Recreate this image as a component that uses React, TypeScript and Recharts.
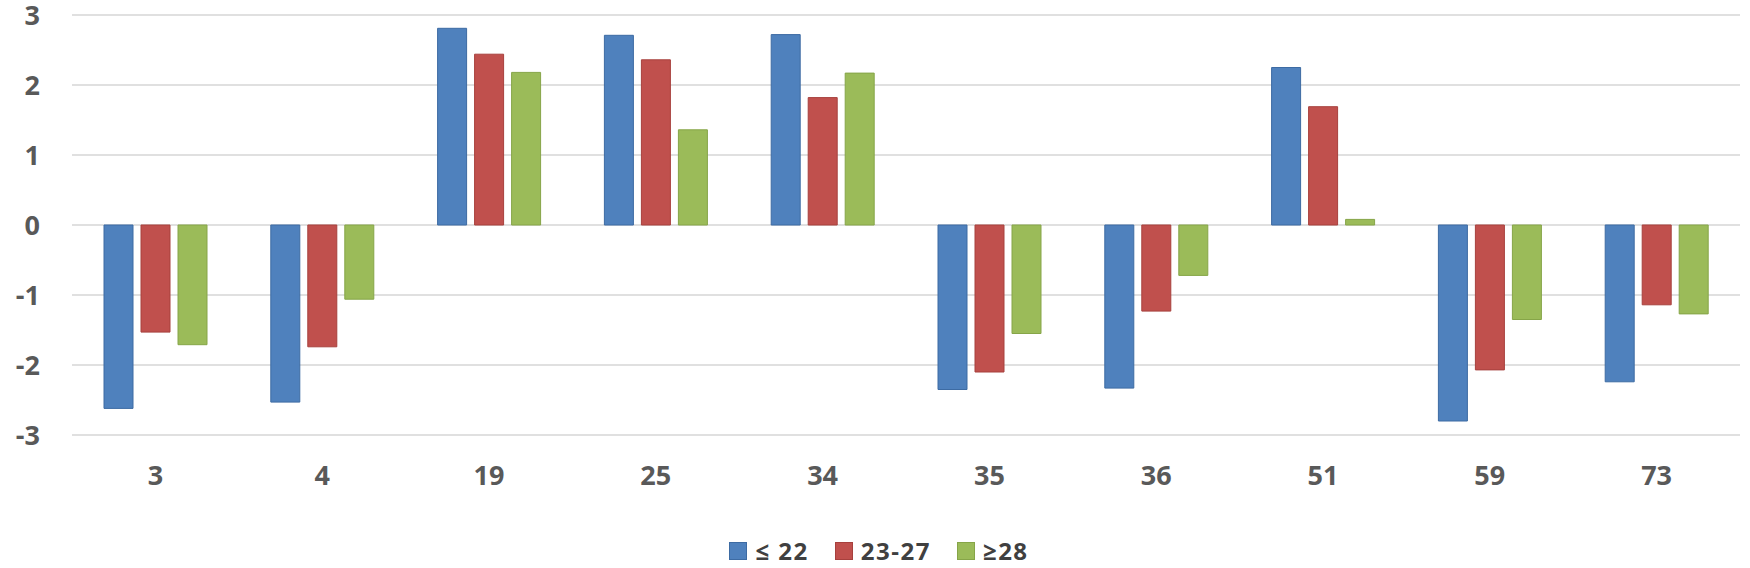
import React from 'react';
import { BarChart, Bar, XAxis, YAxis, CartesianGrid, Legend } from 'recharts';

const categories = ['3', '4', '19', '25', '34', '35', '36', '51', '59', '73'];
const seriesLow = [-2.62, -2.53, 2.81, 2.71, 2.72, -2.35, -2.33, 2.25, -2.8, -2.24];
const seriesMid = [-1.53, -1.74, 2.44, 2.36, 1.82, -2.1, -1.23, 1.69, -2.07, -1.14];
const seriesHigh = [-1.71, -1.06, 2.18, 1.36, 2.17, -1.55, -0.72, 0.08, -1.35, -1.27];
const yTicks = [-3, -2, -1, 0, 1, 2, 3];
const seriesNames = ['≤ 22', '23-27', '≥28'];

const colors = ['#4F81BD', '#C0504D', '#9BBB59'];
const strokes = ['#3D6BA3', '#A7403D', '#86A548'];

const data = categories.map((c, i) => ({
  name: c,
  low: seriesLow[i],
  mid: seriesMid[i],
  high: seriesHigh[i],
}));

const FONT = '"Open Sans", "Liberation Sans", sans-serif';

const LegendContent = () => (
  <div
    style={{
      display: 'flex',
      justifyContent: 'center',
      alignItems: 'center',
      fontFamily: FONT,
      fontWeight: 700,
      fontSize: 24,
      letterSpacing: 1.5,
      color: '#404040',
      height: 24,
      paddingLeft: 8,
    }}
  >
    {seriesNames.map((n, i) => (
      <div key={n} style={{ display: 'flex', alignItems: 'center', marginRight: i < 2 ? 26 : 0 }}>
        <div
          style={{
            width: 16,
            height: 16,
            background: colors[i],
            border: `1px solid ${strokes[i]}`,
            marginRight: 8,
          }}
        />
        <span style={{ lineHeight: '24px' }}>{n}</span>
      </div>
    ))}
  </div>
);

export default function App() {
  return (
    <div style={{ position: 'absolute', left: 0, top: 0, width: 1750, height: 568, background: '#fff' }}>
      <BarChart
        width={1750}
        height={568}
        data={data}
        margin={{ top: 15, right: 10, left: 0, bottom: 0 }}
        barCategoryGap={32}
        barGap={8}
      >
        <CartesianGrid vertical={false} stroke="#d6d6d6" strokeWidth={1.5} />
        <XAxis
          dataKey="name"
          axisLine={false}
          tickLine={false}
          tickSize={0}
          tickMargin={31}
          height={109}
          interval={0}
          tick={{ fill: '#595959', fontSize: 27, fontWeight: 700, fontFamily: FONT }}
        />
        <YAxis
          domain={[-3, 3]}
          ticks={yTicks}
          width={72}
          axisLine={false}
          tickLine={false}
          tickSize={0}
          tickMargin={32}
          interval={0}
          tick={{ fill: '#595959', fontSize: 27, fontWeight: 700, fontFamily: FONT }}
        />
        <Legend
          verticalAlign="bottom"
          content={LegendContent}
          wrapperStyle={{ top: 539, bottom: 'auto', left: 0, width: 1750, height: 24 }}
        />
        <Bar dataKey="low" name={seriesNames[0]} fill={colors[0]} stroke={strokes[0]} strokeWidth={1} isAnimationActive={false} />
        <Bar dataKey="mid" name={seriesNames[1]} fill={colors[1]} stroke={strokes[1]} strokeWidth={1} isAnimationActive={false} />
        <Bar dataKey="high" name={seriesNames[2]} fill={colors[2]} stroke={strokes[2]} strokeWidth={1} isAnimationActive={false} />
      </BarChart>
    </div>
  );
}
